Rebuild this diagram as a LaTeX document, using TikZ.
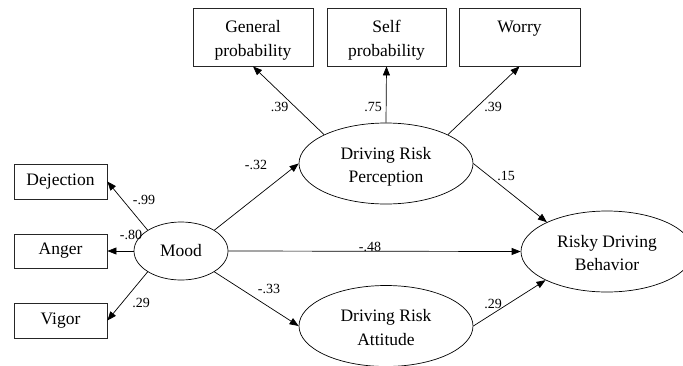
\documentclass[tikz,border=0pt]{standalone}
\usepackage{fontspec}
\setmainfont{Liberation Serif}
\newfontfamily\tnr{Liberation Serif}
\usetikzlibrary{shapes.geometric,arrows.meta}
\newcommand\twoline[2]{\raisebox{-3pt}[\height][\depth]{\begin{tabular}{@{}c@{}}#1\\#2\end{tabular}}}
\begin{document}
\begin{tikzpicture}[x=1pt,y=-1pt,
  every node/.style={inner sep=0pt},
  obs/.style={draw=black!85,line width=0.8pt,rectangle,align=center,
    font=\tnr\fontsize{17.5}{23.5}\selectfont},
  lat/.style={draw=black,line width=0.7pt,ellipse,align=center,
    font=\tnr\fontsize{17.5}{23.5}\selectfont},
  lbl/.style={font=\tnr\fontsize{14}{16}\selectfont},
  arr/.style={line width=0.7pt,-{Triangle[length=9pt,width=7pt]}}]
\useasboundingbox (0,0) rectangle (683,365);
% observed
\node[obs,minimum width=93pt,minimum height=35pt] (dej) at (60.5,181.5) {Dejection};
\node[obs,minimum width=93pt,minimum height=34pt] (ang) at (60.5,251) {Anger};
\node[obs,minimum width=93pt,minimum height=35pt] (vig) at (60.5,320.5) {Vigor};
\node[obs,minimum width=120pt,minimum height=58pt] (gen) at (253,37) {\twoline{General}{probability}};
\node[obs,minimum width=119pt,minimum height=58pt] (slf) at (386.5,37) {\twoline{Self}{probability}};
\node[obs,minimum width=121pt,minimum height=58pt] (wor) at (519.5,37) {\twoline{Worry}{\strut}};
% latent
\node[lat,minimum width=94pt,minimum height=58pt] (mood) at (181,251) {Mood};
\node[lat,minimum width=174pt,minimum height=81pt] (per) at (386,163.5) {\twoline{Driving Risk}{Perception}};
\node[lat,minimum width=174pt,minimum height=81pt] (att) at (386,326) {\twoline{Driving Risk}{Attitude}};
\node[lat,minimum width=172pt,minimum height=81pt] (rdb) at (607,251.5) {\twoline{Risky Driving}{Behavior}};
% arrows
\draw[arr] (mood.148) -- (dej.east);
\draw[arr] (mood.west) -- (ang.east);
\draw[arr] (mood.212) -- (vig.east);
\draw[arr] (mood.32) -- (per.west);
\draw[arr] (mood.328) -- (att.west);
\draw[arr] (mood.east) -- (rdb.west);
\draw[arr] (per.155) -- (gen.south);
\draw[arr] (per.north) -- (slf.south);
\draw[arr] (per.25) -- (wor.south);
\draw[arr] (per.east) -- (rdb.154);
\draw[arr] (att.east) -- (rdb.205);
% labels
\node[lbl] (l1) at (144,200) {-.99};
\node[lbl] (l2) at (131,235) {-.80};
\node[lbl] (l3) at (141,303) {.29};
\node[lbl] (l4) at (256,165) {-.32};
\node[lbl] (l5) at (269,289) {-.33};
\node[lbl] (l6) at (279.5,107) {.39};
\node[lbl] (l7) at (373,107) {.75};
\node[lbl] (l8) at (493,107) {.39};
\node[lbl] (l9) at (506,176) {.15};
\node[lbl] (l10) at (370,247) {-.48};
\node[lbl] (l11) at (493,304) {.29};
\end{tikzpicture}
\end{document}
